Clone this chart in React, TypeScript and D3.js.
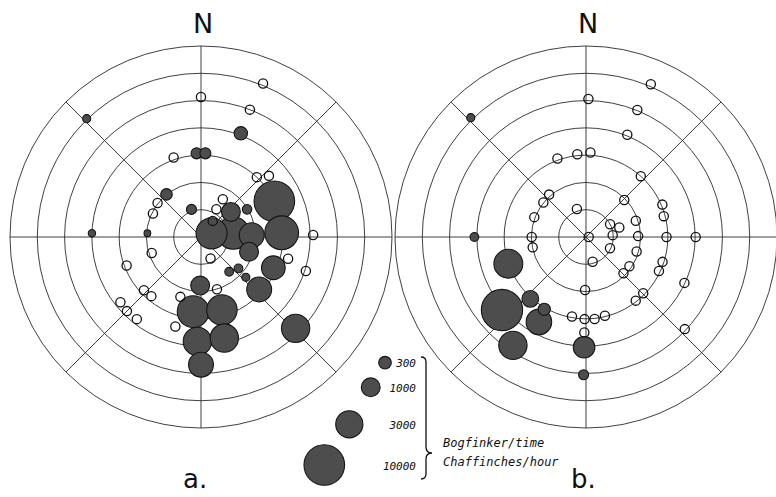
import React from "react";
import * as d3 from "d3";

// ---------- data ----------
// Panel a: filled = Bramblings (birds/hour), direction in degrees from N, distance in ring units
const aFilledDir = [316, 21, 357, 3, 321, 341, 272, 274, 64, 87, 50, 59, 71, 83, 88, 107, 113, 132, 132, 141, 130, 181, 186, 164, 182, 167, 180, 134];
const aFilledDist = [6.03, 4.07, 3.07, 3.07, 2.01, 1.07, 4.0, 1.97, 2.99, 2.96, 1.43, 1.97, 0.41, 1.19, 1.86, 1.84, 2.88, 2.87, 2.21, 1.64, 1.79, 1.78, 2.75, 2.78, 3.83, 3.8, 4.68, 4.82];
const aFilledCount = [80, 360, 200, 200, 230, 155, 60, 45, 10000, 5800, 1000, 130, 4500, 5100, 2300, 1000, 2000, 2300, 80, 100, 100, 1000, 4800, 4200, 3400, 3400, 2300, 3400];

const aOpenDir = [22, 0, 21, 341, 43, 48, 308, 296, 30, 36, 29, 89, 252, 156, 104, 108, 249, 227, 220, 231, 225, 218, 163, 199, 196];
const aOpenDist = [6.07, 5.13, 5.0, 3.08, 3.0, 3.35, 2.02, 1.96, 1.6, 0.73, 1.16, 4.11, 1.9, 0.86, 3.29, 4.04, 2.92, 2.86, 2.83, 3.8, 3.84, 3.82, 2.0, 2.32, 3.41];

// Panel b
const bFilledDir = [316, 270, 251, 229, 222, 210, 209, 214, 181, 181];
const bFilledDist = [6.08, 4.09, 3.01, 4.08, 3.05, 3.06, 3.56, 4.79, 4.04, 5.05];
const bFilledCount = [80, 100, 3600, 10500, 700, 270, 2500, 3400, 1500, 150];

const bOpenDir = [23, 1, 22, 22, 340, 354, 3, 42, 319, 309, 291, 342, 46, 67, 75, 72, 62, 74, 86, 89, 90, 90, 90, 270, 259, 115, 165, 106, 124, 134, 108, 115, 115, 134.5, 142, 181, 190, 181, 174, 166.5, 181, 133];
const bOpenDist = [6.08, 5.06, 5.02, 4.04, 3.06, 3.05, 3.1, 3.0, 2.06, 2.01, 2.03, 1.08, 1.95, 3.04, 2.95, 1.92, 1.0, 1.27, 0.98, 1.91, 2.95, 4.02, 0.1, 1.99, 1.99, 0.97, 0.94, 1.93, 1.92, 1.91, 2.95, 2.95, 3.98, 2.94, 2.96, 1.94, 2.96, 3.01, 3.02, 2.97, 3.5, 4.95];

const legendCounts = [300, 1000, 3000, 10000];
const legendLabels = ["300", "1000", "3000", "10000"];
const legendTitle = ["Bogfinker/time", "Chaffinches/hour"];
const ringCount = 7;
const spokeAngles = [0, 45, 90, 135, 180, 225, 270, 315];
const panelLabels = ["a.", "b."];

// ---------- drawing ----------
const W = 776;
const H = 497;
const CY = 237;
const centers = [201, 586];

const rScale = d3.scaleLinear().domain([0, ringCount]).range([0, 191]);
const sizeScale = d3.scalePow().exponent(1 / 3).domain([0, 10000]).range([0, 20.3]);

const rad = (deg: number) => (deg * Math.PI) / 180;
const px = (cx: number, dir: number, dist: number) => cx + rScale(dist) * Math.sin(rad(dir));
const py = (dir: number, dist: number) => CY - rScale(dist) * Math.cos(rad(dir));

const GRID = "#2a2a2a";
const FILL = "#4d4d4d";
const EDGE = "#151515";

function Panel({ cx, fDir, fDist, fCount, oDir, oDist }: any) {
  const filled = fDir
    .map((d: number, i: number) => ({ dir: d, dist: fDist[i], n: fCount[i] }))
    .sort((a: any, b: any) => b.n - a.n);
  const open = oDir.map((d: number, i: number) => ({ dir: d, dist: oDist[i] }));
  return (
    <g>
      {d3.range(1, ringCount + 1).map((k) => (
        <circle key={"r" + k} cx={cx} cy={CY} r={rScale(k)} fill="none" stroke={GRID} strokeWidth={0.9} />
      ))}
      {spokeAngles.map((a) => (
        <line
          key={"s" + a}
          x1={cx}
          y1={CY}
          x2={px(cx, a, ringCount)}
          y2={py(a, ringCount)}
          stroke={GRID}
          strokeWidth={0.9}
        />
      ))}
      {filled.map((p: any, i: number) => (
        <circle
          key={"f" + i}
          cx={px(cx, p.dir, p.dist)}
          cy={py(p.dir, p.dist)}
          r={sizeScale(p.n)}
          fill={FILL}
          stroke={EDGE}
          strokeWidth={1.1}
        />
      ))}
      {open.map((p: any, i: number) => (
        <circle
          key={"o" + i}
          cx={px(cx, p.dir, p.dist)}
          cy={py(p.dir, p.dist)}
          r={4.6}
          fill="none"
          stroke="#111"
          strokeWidth={1.3}
        />
      ))}
      <text x={cx + 2} y={33} textAnchor="middle" fontFamily="DejaVu Sans" fontSize={27} fill="#111">
        N
      </text>
    </g>
  );
}

export default function App() {
  const legendPos = [
    [385, 362.7, 367],
    [370.7, 387.3, 392],
    [349.3, 424.3, 429],
    [324.3, 465, 470],
  ];
  return (
    <svg width={W} height={H} style={{ position: "absolute", left: 0, top: 0, background: "#fff" }}>
      <rect width={W} height={H} fill="#fff" />
      <Panel cx={centers[0]} fDir={aFilledDir} fDist={aFilledDist} fCount={aFilledCount} oDir={aOpenDir} oDist={aOpenDist} />
      <Panel cx={centers[1]} fDir={bFilledDir} fDist={bFilledDist} fCount={bFilledCount} oDir={bOpenDir} oDist={bOpenDist} />
      {/* legend */}
      {legendCounts.map((n, i) => (
        <g key={"l" + i}>
          <circle cx={legendPos[i][0]} cy={legendPos[i][1]} r={sizeScale(n)} fill={FILL} stroke={EDGE} strokeWidth={1.1} />
          <text
            x={416}
            y={legendPos[i][2]}
            textAnchor="end"
            fontFamily="DejaVu Sans Mono"
            fontStyle="italic"
            fontSize={11}
            fill="#111"
          >
            {legendLabels[i]}
          </text>
        </g>
      ))}
      <path
        d="M421,357 Q426,357 426,362 L426,447 Q426,453 432,453 Q426,453 426,459 L426,474 Q426,479 421,479"
        fill="none"
        stroke="#111"
        strokeWidth={1.3}
      />
      {legendTitle.map((t, i) => (
        <text key={"t" + i} x={443} y={447 + i * 19} fontFamily="DejaVu Sans Mono" fontStyle="italic" fontSize={12} fill="#111">
          {t}
        </text>
      ))}
      <text x={183} y={488} fontFamily="DejaVu Sans" fontSize={26} fill="#111">
        {panelLabels[0]}
      </text>
      <text x={571} y={488} fontFamily="DejaVu Sans" fontSize={26} fill="#111">
        {panelLabels[1]}
      </text>
    </svg>
  );
}
